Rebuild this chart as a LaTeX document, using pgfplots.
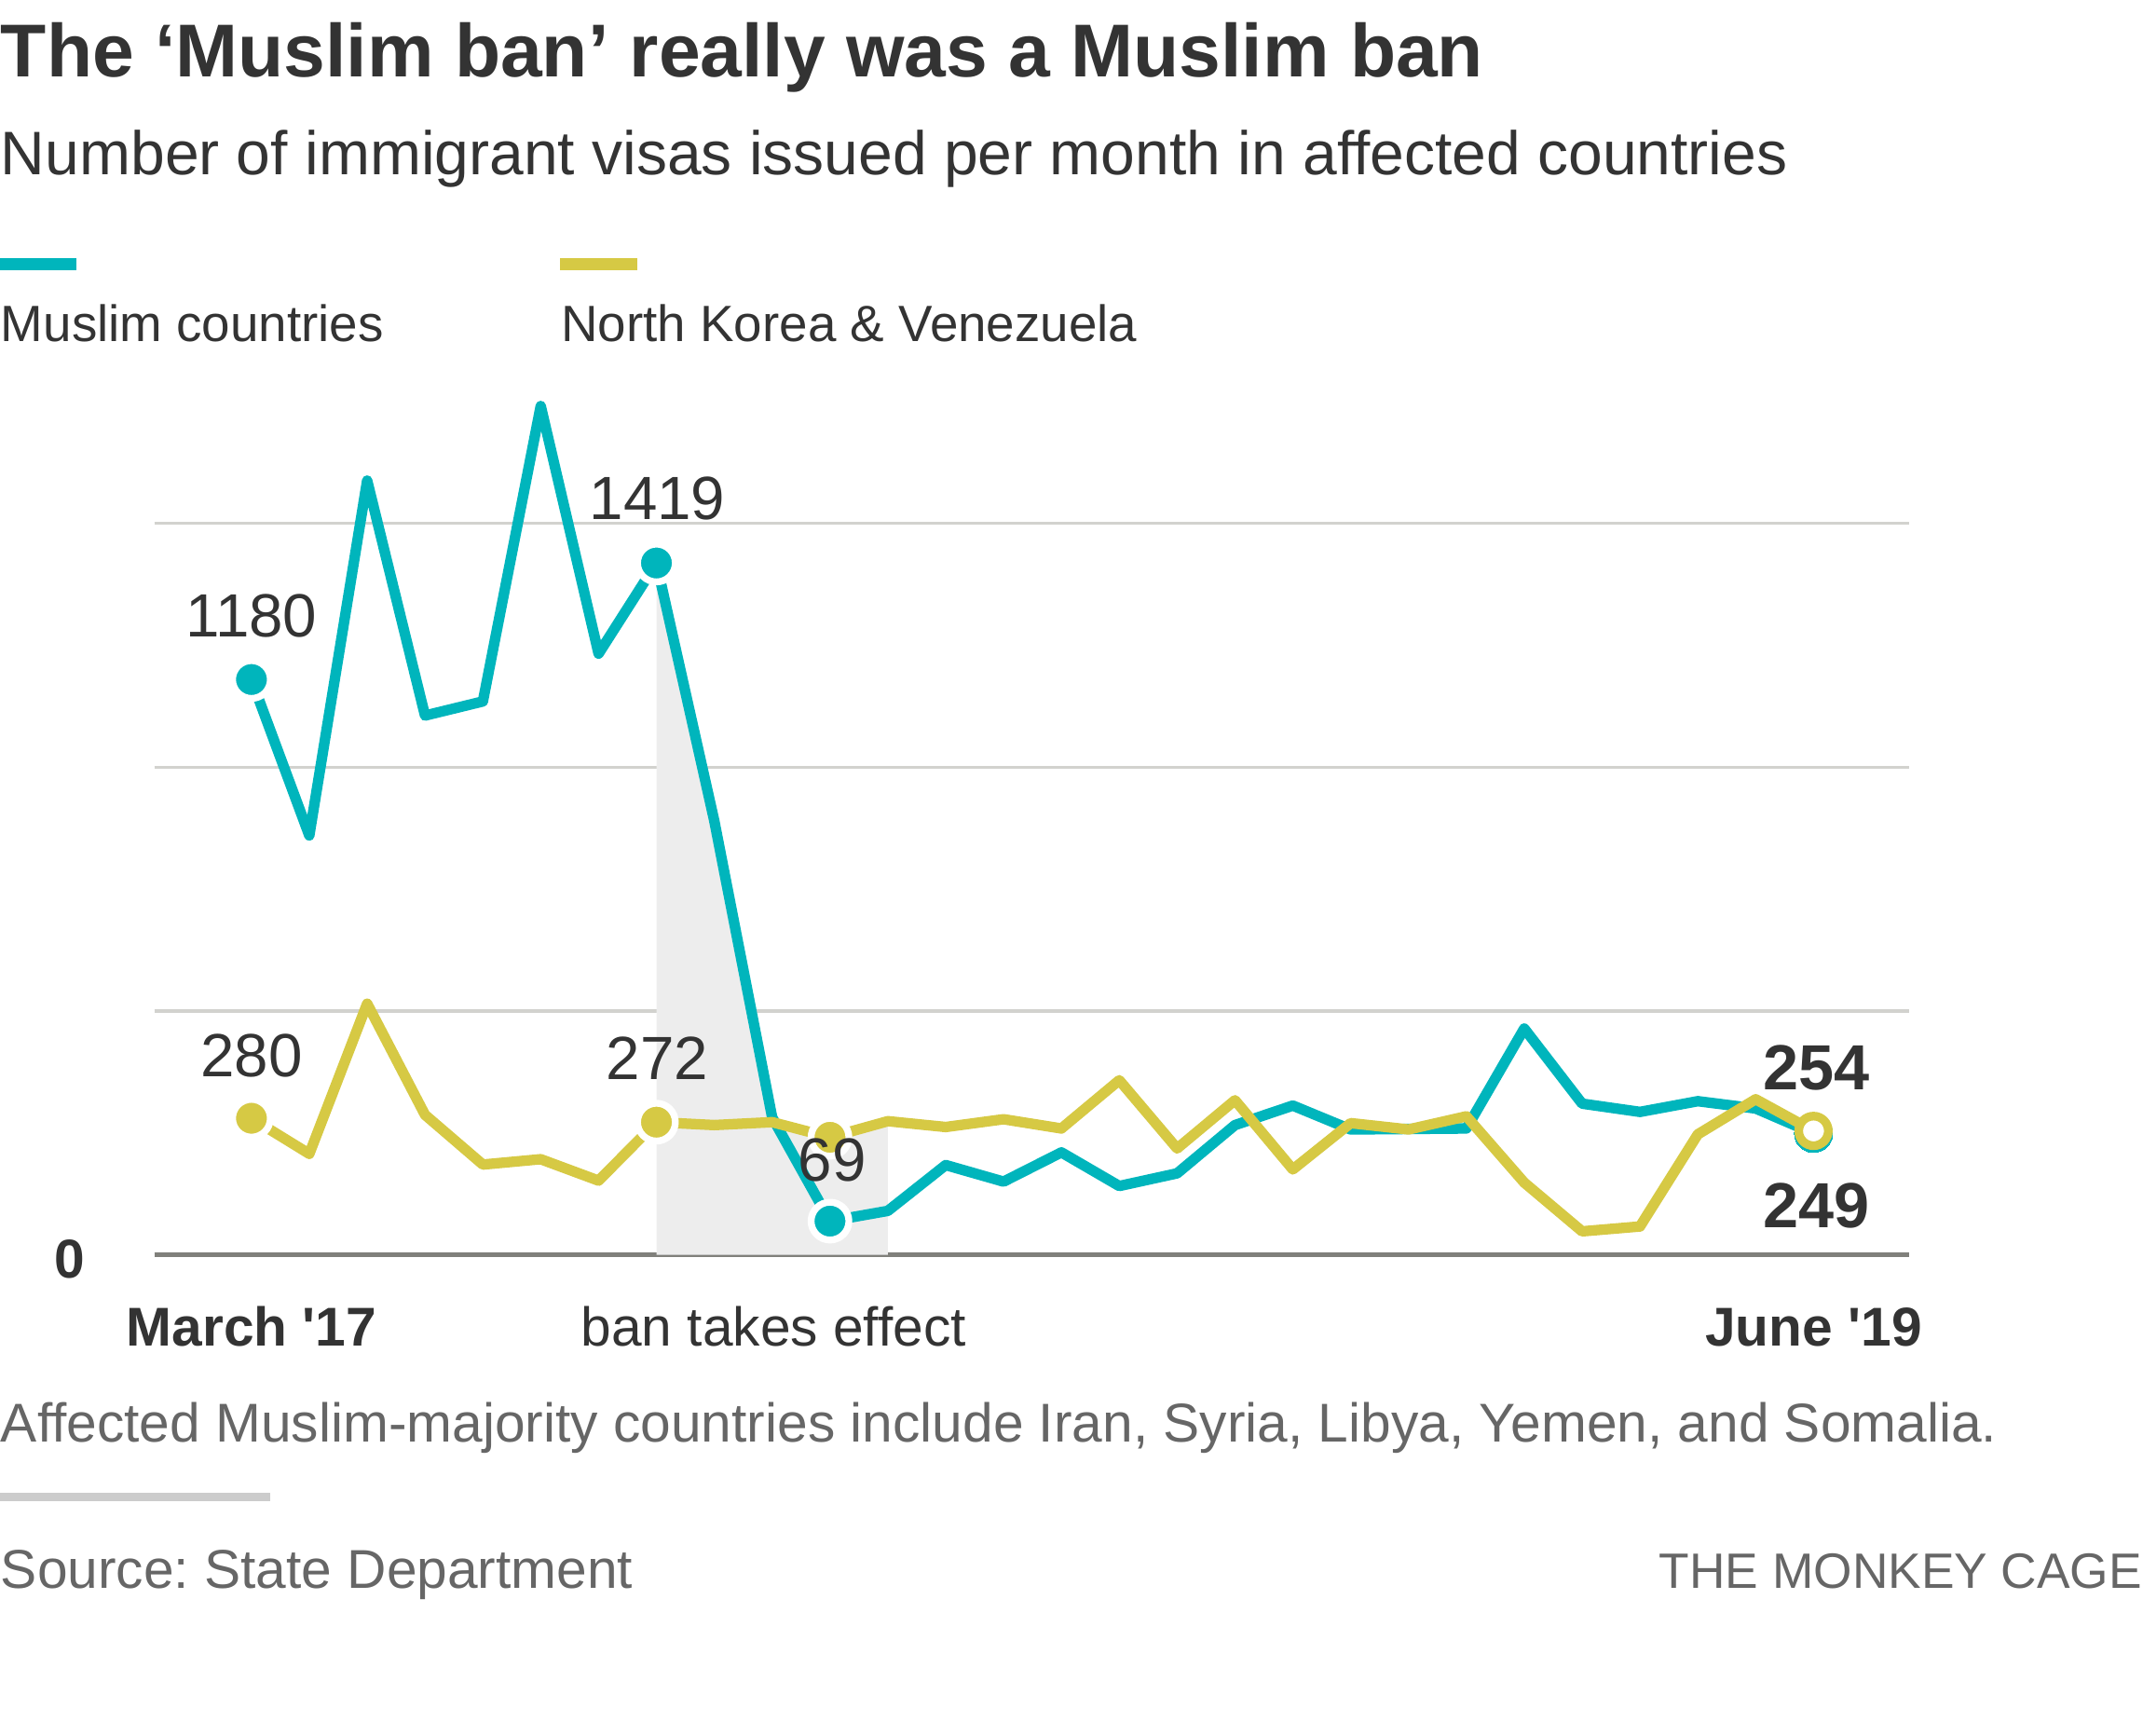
\documentclass[border=0pt]{standalone}
\usepackage{pgfplots}
\pgfplotsset{compat=1.18}
\usepackage{fontspec}
\setmainfont{Liberation Sans}[Ligatures=TeXOff]
\frenchspacing
\definecolor{mteal}{HTML}{00B5BC}
\definecolor{myellow}{HTML}{D6C944}
\definecolor{shade}{HTML}{EDEDED}
\definecolor{gridgray}{HTML}{D2D2CE}
\definecolor{basegray}{HTML}{80807B}
\definecolor{txt}{HTML}{333333}
\definecolor{note}{HTML}{666666}
\definecolor{rulegray}{HTML}{CCCCCC}

\pgfplotstableread{
idx val
0 1180
1 860
2 1588
3 1106
4 1135
5 1741
6 1233
7 1419
8 890
9 282
10 69
11 90
12 184
13 150
14 210
15 141
16 167
17 266
18 306
19 257
20 258
21 259
22 464
23 310
24 293
25 315
26 300
27 249
}\muslim

\pgfplotstableread{
idx val
0 280
1 207
2 515
3 287
4 185
5 196
6 152
7 272
8 266
9 272
10 241
11 274
12 262
13 278
14 259
15 358
16 218
17 317
18 175
19 270
20 257
21 284
22 148
23 48
24 58
25 247
26 319
27 254
}\nkv

\begin{document}
\begin{tikzpicture}
\begin{scope}[x=0.3pt,y=-0.3pt]
\path (0,0) rectangle (1568,1270);
\node[anchor=base west,inner sep=0pt,text=txt,font=\fontsize{16.45}{18}\selectfont\bfseries] at (0,56) {The ‘Muslim ban’ really was a Muslim ban};
\node[anchor=base west,inner sep=0pt,text=txt,font=\fontsize{13.5}{16}\selectfont] at (0,128) {Number of immigrant visas issued per month in affected countries};
\fill[mteal] (0,189) rectangle (56,198);
\fill[myellow] (410,189) rectangle (466,198);
\node[anchor=base west,inner sep=0pt,text=txt,font=\fontsize{11.2}{13}\selectfont] at (0,250) {Muslim countries};
\node[anchor=base west,inner sep=0pt,text=txt,font=\fontsize{11.2}{13}\selectfont] at (410,250) {North Korea \& Venezuela};
\node[anchor=base west,inner sep=0pt,text=note,font=\fontsize{12}{14}\selectfont] at (0,1055) {Affected Muslim-majority countries include Iran, Syria, Libya, Yemen, and Somalia.};
\fill[rulegray] (0,1092) rectangle (198,1098);
\node[anchor=base west,inner sep=0pt,text=note,font=\fontsize{12}{14}\selectfont] at (0,1162) {Source: State Department};
\node[anchor=base east,inner sep=0pt,text=note,font=\fontsize{10.9}{14}\selectfont] at (1568,1162) {THE MONKEY CAGE};
\end{scope}

\begin{axis}[
  at={(33.9pt,-275.4pt)}, anchor=south west,
  scale only axis, width=385.2pt, height=160.5pt,
  xmin=-1.677, xmax=28.655, ymin=0, ymax=1500,
  axis line style={draw=none},
  xtick=\empty,
  ytick={500,1000,1500}, yticklabels={},
  major tick length=0pt,
  ymajorgrids,
  major grid style={draw=gridgray, line width=0.68pt},
  extra y ticks={0}, extra y tick labels={},
  extra y tick style={major grid style={draw=basegray, line width=0.85pt}},
  clip=false,
]
% shaded period (area under the higher of the two series)
\addplot[fill=shade, draw=none] coordinates {(7,0) (7,1419) (8,890) (9,282) (9.055,270) (10,241) (11,274) (11,0)};
\addplot[mteal, line width=2.3pt, line join=round, line cap=round,
  mark=*, mark indices={1,8,11}, mark size=4.15pt,
  mark options={fill=mteal, draw=white, line width=1.5pt}]
  table[x=idx,y=val] {\muslim};
\addplot[myellow, line width=2.3pt, line join=round, line cap=round,
  mark=*, mark indices={1,8,11}, mark size=4.15pt,
  mark options={fill=myellow, draw=white, line width=1.5pt}]
  table[x=idx,y=val] {\nkv};
\addplot[mteal, only marks, mark=*, mark size=4.2pt, mark options={fill=mteal, draw=mteal, line width=0pt}] coordinates {(27,249)};
\addplot[myellow, only marks, mark=*, mark size=3.25pt, mark options={fill=white, draw=myellow, line width=1.9pt}] coordinates {(27,254)};
\end{axis}

\begin{scope}[x=0.3pt,y=-0.3pt]
\tikzset{lab/.style={anchor=base,inner sep=0pt,text=txt,font=\fontsize{13.4}{16}\selectfont}}
\tikzset{blab/.style={anchor=base,inner sep=0pt,text=txt,font=\fontsize{14}{16}\selectfont\bfseries}}
\tikzset{xlab/.style={anchor=base,inner sep=0pt,text=txt,font=\fontsize{12}{14}\selectfont}}
\node[lab] at (184,466) {1180};
\node[lab] at (481,380) {1419};
\node[lab] at (184,788) {280};
\node[lab] at (481,790) {272};
\node[lab] at (609,864) {69};
\node[blab] at (1329,797) {254};
\node[blab] at (1329,898) {249};
\node[xlab,font=\fontsize{12}{14}\selectfont\bfseries] at (51,935) {0};
\node[xlab,font=\fontsize{12}{14}\selectfont\bfseries] at (184,985) {March '17};
\node[xlab] at (566,985) {ban takes effect};
\node[xlab,font=\fontsize{12}{14}\selectfont\bfseries] at (1327,985) {June '19};
\end{scope}
\end{tikzpicture}
\end{document}
